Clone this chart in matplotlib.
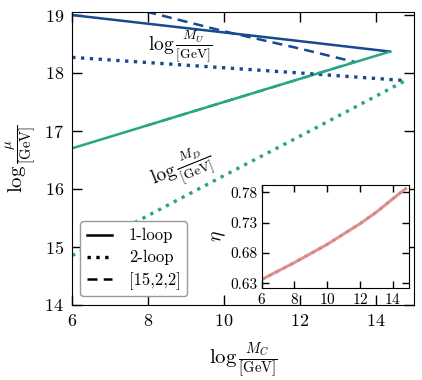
import matplotlib
matplotlib.use("Agg")
import matplotlib.pyplot as plt
from matplotlib.lines import Line2D

plt.rcParams["font.family"] = "serif"
plt.rcParams["font.serif"] = ["cmr10", "DejaVu Serif"]
plt.rcParams["mathtext.fontset"] = "cm"
plt.rcParams["axes.formatter.use_mathtext"] = True

# 1-loop
mc_1loop = [6.0, 8.0, 10.0, 12.0, 14.37]
mu_1loop = [19.0, 18.85, 18.70, 18.55, 18.37]
md_1loop = [16.70, 17.10, 17.50, 17.90, 18.37]

# 2-loop
mc_2loop = [6.0, 8.0, 10.0, 12.0, 14.75]
mu_2loop = [18.27, 18.18, 18.09, 18.00, 17.87]
md_2loop = [14.85, 15.54, 16.23, 16.91, 17.86]

# [15,2,2]
mc_1522 = [7.95, 10.0, 12.0, 13.44]
mu_1522 = [19.06, 18.72, 18.42, 18.19]
md_1522 = [17.09, 17.50, 17.90, 18.19]

# inset: eta vs log M_C
mc_eta = [6.0, 7.0, 8.0, 9.0, 10.0, 11.0, 12.0, 13.0, 14.0, 14.8]
eta = [0.636, 0.650, 0.664, 0.679, 0.694, 0.711, 0.728, 0.747, 0.769, 0.786]

blue = "#17498f"
green = "#27a584"
red = "#d47a78"

fig = plt.figure(figsize=(4.22, 3.80), dpi=100)
ax = fig.add_axes([0.171, 0.198, 0.810, 0.770])

ax.plot(mc_1loop, mu_1loop, "-", color=blue, lw=1.8)
ax.plot(mc_1loop, md_1loop, "-", color=green, lw=1.8)
ax.plot(mc_2loop, mu_2loop, ":", color=blue, lw=2.4)
ax.plot(mc_2loop, md_2loop, ":", color=green, lw=2.4)
ax.plot(mc_1522, mu_1522, "--", color=blue, lw=1.8, dashes=(4, 2.5))
ax.plot(mc_1522, md_1522, "--", color=green, lw=1.8, dashes=(4, 2.5))

ax.text(8.85, 18.45, r"$\log\frac{M_U}{[\mathrm{GeV}]}$", fontsize=14,
        ha="center", va="center")
ax.text(8.9, 16.35, r"$\log\frac{M_D}{[\mathrm{GeV}]}$", fontsize=14,
        ha="center", va="center", rotation=22)

ax.set_xlim(6, 15)
ax.set_ylim(14, 19.05)
ax.set_xticks([6, 8, 10, 12, 14])
ax.set_yticks([14, 15, 16, 17, 18, 19])
ax.tick_params(direction="in", top=True, right=True, length=7, width=1,
               labelsize=13, pad=6)
ax.set_xlabel(r"$\log\frac{M_C}{[\mathrm{GeV}]}$", fontsize=15, labelpad=8)
ax.set_ylabel(r"$\log\frac{\mu}{[\mathrm{GeV}]}$", fontsize=15, labelpad=4)

handles = [
    Line2D([], [], color="black", ls="-", lw=1.8),
    Line2D([], [], color="black", ls=":", lw=2.4),
    Line2D([], [], color="black", ls="--", lw=1.8, dashes=(4, 2.5)),
]
ax.legend(handles, ["1-loop", "2-loop", "[15,2,2]"], loc="lower left",
          fontsize=12, bbox_to_anchor=(0.0, 0.0), borderaxespad=0.5,
          handlelength=1.5, handletextpad=1.0, labelspacing=0.4,
          fancybox=True, framealpha=1.0, edgecolor="#999999")

ins = fig.add_axes([0.620, 0.242, 0.349, 0.271])
ins.plot(mc_eta, eta, "-", color=red, lw=2.2, alpha=0.8)
ins.plot(mc_eta, eta, ":", color=red, lw=2.2, alpha=0.6)
ins.set_xlim(6, 15)
ins.set_ylim(0.622, 0.792)
ins.set_xticks([6, 8, 10, 12, 14])
ins.set_yticks([0.63, 0.68, 0.73, 0.78])
ins.set_yticklabels(["0.63", "0.68", "0.73", "0.78"])
ins.tick_params(direction="in", top=True, right=True, length=5, width=1,
                labelsize=11, pad=3)
ins.set_ylabel(r"$\eta$", fontsize=14, labelpad=2)

fig.savefig("out.png", dpi=100)
